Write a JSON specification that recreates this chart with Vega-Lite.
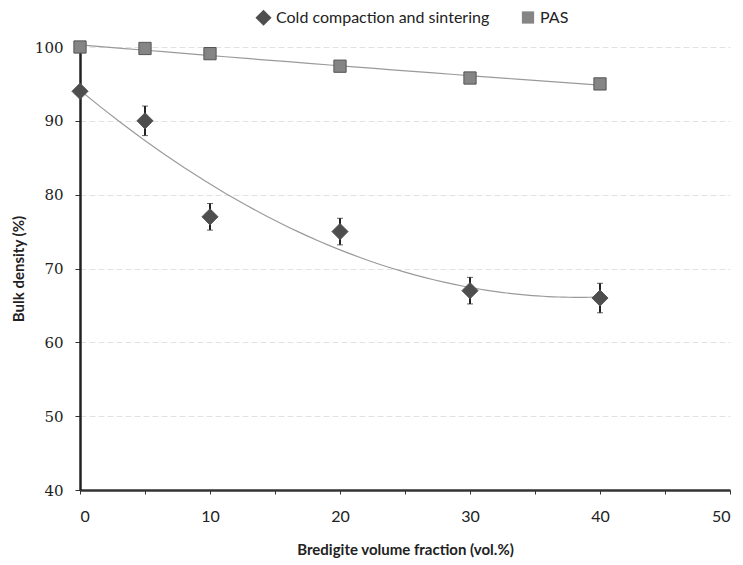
{
  "$schema": "https://vega.github.io/schema/vega-lite/v6.json",
  "width": 650,
  "height": 443,
  "autosize": {"type": "none"},
  "padding": {"left": 80, "top": 47, "right": 13, "bottom": 75},
  "background": "white",
  "data": {
    "values": [
      {"series": "Cold compaction and sintering", "x": 0, "y": 94, "err": 0},
      {"series": "Cold compaction and sintering", "x": 5, "y": 90, "err": 2},
      {"series": "Cold compaction and sintering", "x": 10, "y": 77, "err": 1.8},
      {"series": "Cold compaction and sintering", "x": 20, "y": 75, "err": 1.8},
      {"series": "Cold compaction and sintering", "x": 30, "y": 67, "err": 1.8},
      {"series": "Cold compaction and sintering", "x": 40, "y": 66, "err": 2},
      {"series": "PAS", "x": 0, "y": 100, "err": 0},
      {"series": "PAS", "x": 5, "y": 99.8, "err": 0},
      {"series": "PAS", "x": 10, "y": 99.1, "err": 0.3},
      {"series": "PAS", "x": 20, "y": 97.4, "err": 0.3},
      {"series": "PAS", "x": 30, "y": 95.8, "err": 0.4},
      {"series": "PAS", "x": 40, "y": 95, "err": 0.5}
    ]
  },
  "config": {
    "view": {"stroke": null},
    "axis": {"titleFont": "Lato", "titleFontWeight": "bold", "titleFontSize": 15, "titleColor": "#222", "labelColor": "#222"}
  },
  "encoding": {
    "x": {
      "field": "x", "type": "quantitative",
      "scale": {"domain": [0, 50], "nice": false},
      "axis": {
        "title": "Bredigite volume fraction (vol.%)",
        "values": [0, 5, 10, 15, 20, 25, 30, 35, 40, 45, 50],
        "labelExpr": "datum.value % 10 == 0 ? datum.label : ''",
        "labelFont": "Lato", "labelFontSize": 16, "labelPadding": 14,
        "grid": false, "domainColor": "#333", "domainWidth": 2.5,
        "tickColor": "#333", "tickSize": 4, "titlePadding": 18
      }
    },
    "y": {
      "field": "y", "type": "quantitative",
      "scale": {"domain": [40, 100], "nice": false},
      "axis": {
        "title": "Bulk density (%)",
        "values": [40, 50, 60, 70, 80, 90, 100],
        "labelFont": "DejaVu Serif", "labelFontSize": 15, "labelPadding": 12,
        "grid": true, "gridColor": "#e2e2e2", "gridDash": [6, 3],
        "domainColor": "#222", "domainWidth": 2.5,
        "tickColor": "#333", "tickSize": 5, "titlePadding": 8
      }
    }
  },
  "layer": [
    {
      "transform": [{"regression": "y", "on": "x", "groupby": ["series"], "method": "poly", "order": 2, "extent": [0, 40]}],
      "mark": {"type": "line", "color": "#9a9a9a", "strokeWidth": 1.2},
      "encoding": {"detail": {"field": "series"}}
    },
    {
      "transform": [{"filter": "datum.err > 0"}],
      "mark": {"type": "errorbar", "ticks": {"size": 6, "color": "#222"}, "rule": {"color": "#222", "strokeWidth": 2}},
      "encoding": {"yError": {"field": "err"}, "detail": {"field": "series"}}
    },
    {
      "mark": {"type": "point", "filled": true, "opacity": 1, "strokeWidth": 1},
      "encoding": {
        "size": {
          "field": "series", "type": "nominal",
          "scale": {"domain": ["Cold compaction and sintering", "PAS"], "range": [260, 150]},
          "legend": null
        },
        "shape": {
          "field": "series", "type": "nominal",
          "scale": {"domain": ["Cold compaction and sintering", "PAS"], "range": ["diamond", "square"]},
          "legend": null
        },
        "color": {
          "field": "series", "type": "nominal",
          "scale": {"domain": ["Cold compaction and sintering", "PAS"], "range": ["#4e4e4e", "#858585"]},
          "legend": {
            "title": null, "orient": "none", "direction": "horizontal",
            "legendX": 175, "legendY": -38, "labelLimit": 400,
            "labelFont": "Lato", "labelFontSize": 16, "labelColor": "#222",
            "columnPadding": 30, "symbolSize": 110,
            "symbolStrokeWidth": 0
          }
        },
        "stroke": {"value": "#555"}
      }
    }
  ]
}
